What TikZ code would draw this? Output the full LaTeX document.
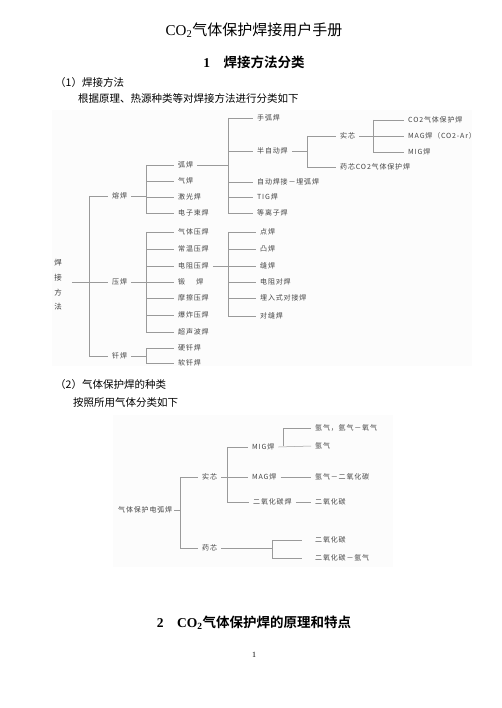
\documentclass[tikz,border=0pt]{standalone}
\usepackage{fontspec}
\setmainfont{Liberation Serif}
\newfontfamily\cjk[BoldFont={Noto Sans CJK SC Bold}]{Noto Sans CJK SC}
\newfontfamily\dg[LetterSpace=12]{Noto Sans CJK SC}
\definecolor{lc}{HTML}{9A9A9A}
\definecolor{tc}{HTML}{444444}
\definecolor{bgc}{HTML}{FCFCFC}
\tikzset{
  lbl/.style={anchor=west, inner xsep=4pt, inner ysep=1pt, text=tc, font=\dg\fontsize{7}{8}\selectfont},
  ln/.style={draw=lc, line width=0.5pt},
  body/.style={anchor=west, inner sep=0pt, font=\cjk\fontsize{10.5}{12}\selectfont},
}
\begin{document}
\begin{tikzpicture}[x=1pt,y=-1pt]
\useasboundingbox (0,0) rectangle (502,708);
\fill[white] (0,0) rectangle (502,708);
% backgrounds of the two figures
\fill[bgc] (52,110) rectangle (472,366);
\fill[bgc] (113,415) rectangle (393,567);

% headings and body text
\node[inner sep=0pt] (title) at (254,30) {\fontsize{15}{16}\selectfont CO\textsubscript{2}\cjk 气体保护焊接用户手册};
\node[inner sep=0pt] (sec1) at (254,62) {\bfseries\fontsize{13.5}{15}\selectfont 1\hspace{1em}\cjk 焊接方法分类};
\node[body] (p1) at (55,83) {\cjk （1）焊接方法};
\node[body] (p2) at (78,99) {根据原理、热源种类等对焊接方法进行分类如下};
\node[body] (p3) at (55,385) {\cjk （2）气体保护焊的种类};
\node[body] (p4) at (73,403) {按照所用气体分类如下};
\node[inner sep=0pt] (sec2) at (254,623) {\bfseries\fontsize{13.5}{15}\selectfont 2\hspace{1em}CO\textsubscript{2}\cjk 气体保护焊的原理和特点};
\node[inner sep=0pt] (pg) at (254,655) {\fontsize{8}{9}\selectfont 1};

% ---------- figure 1 ----------
\node[text=tc, inner xsep=10pt, inner ysep=0pt, align=center, font=\dg\fontsize{7.5}{14.7}\selectfont] (root) at (58,285) {焊\\接\\方\\法};

\coordinate (v0) at (89,0);
\coordinate (v1) at (146,0);
\coordinate (v2) at (228,0);
\coordinate (v3) at (307,0);
\coordinate (v4) at (373,0);
\coordinate (v5) at (146,0);
\coordinate (v6) at (228,0);
\coordinate (v7) at (146,0);

\node[lbl] (rh) at (108,196) {熔焊};
\node[lbl] (yh) at (108,282) {压焊};
\node[lbl] (qh) at (108,356) {钎焊};

\node[lbl] (hh) at (174,165) {弧焊};
\node[lbl] (qih) at (174,181) {气焊};
\node[lbl] (jgh) at (174,197) {激光焊};
\node[lbl] (dzs) at (174,213) {电子束焊};

\node[lbl] (shh) at (253,118) {手弧焊};
\node[lbl] (bzd) at (253,151) {半自动焊};
\node[lbl] (zdh) at (253,182) {自动焊接－埋弧焊};
\node[lbl] (tig) at (253,197) {TIG焊};
\node[lbl] (dlz) at (253,213) {等离子焊};

\node[lbl] (sx) at (336,136) {实芯};
\node[lbl] (yx) at (336,167) {药芯CO2气体保护焊};

\node[lbl] (co2) at (404,120) {CO2气体保护焊};
\node[lbl] (mag) at (404,136) {MAG焊（CO2-Ar）};
\node[lbl] (mig) at (404,152) {MIG焊};

\node[lbl] (qtyh) at (174,232) {气体压焊};
\node[lbl] (cwyh) at (174,249) {常温压焊};
\node[lbl] (dzyh) at (174,266) {电阻压焊};
\node[lbl] (dh) at (174,282) {锻\hspace{1.6em}焊};
\node[lbl] (mcyh) at (174,298) {摩擦压焊};
\node[lbl] (bzyh) at (174,315) {爆炸压焊};
\node[lbl] (csbh) at (174,332) {超声波焊};

\node[lbl] (dian) at (256,232) {点焊};
\node[lbl] (tu) at (256,249) {凸焊};
\node[lbl] (feng) at (256,266) {缝焊};
\node[lbl] (dzdh) at (256,282) {电阻对焊};
\node[lbl] (mrs) at (256,298) {埋入式对接焊};
\node[lbl] (dfh) at (256,316) {对缝焊};

\node[lbl] (yqh) at (174,348) {硬钎焊};
\node[lbl] (rqh) at (174,363) {软钎焊};

% connectors figure 1
\draw[ln] (root.east |- yh.west) -- (yh.west);
\draw[ln] (v0 |- rh.west) -- (v0 |- qh.west);
\draw[ln] (v0 |- rh.west) -- (rh.west);
\draw[ln] (v0 |- qh.west) -- (qh.west);

\draw[ln] (rh.east) -- (v1 |- rh.east);
\draw[ln] (v1 |- hh.west) -- (v1 |- dzs.west);
\foreach \n in {hh,qih,jgh,dzs} \draw[ln] (v1 |- \n.west) -- (\n.west);

\draw[ln] (hh.east) -- (v2 |- hh.east);
\draw[ln] (v2 |- shh.west) -- (v2 |- dlz.west);
\foreach \n in {shh,bzd,zdh,tig,dlz} \draw[ln] (v2 |- \n.west) -- (\n.west);

\draw[ln] (bzd.east) -- (v3 |- bzd.east);
\draw[ln] (v3 |- sx.west) -- (v3 |- yx.west);
\foreach \n in {sx,yx} \draw[ln] (v3 |- \n.west) -- (\n.west);

\draw[ln] (sx.east) -- (v4 |- sx.east);
\draw[ln] (v4 |- co2.west) -- (v4 |- mig.west);
\foreach \n in {co2,mag,mig} \draw[ln] (v4 |- \n.west) -- (\n.west);

\draw[ln] (yh.east) -- (v5 |- yh.east);
\draw[ln] (v5 |- qtyh.west) -- (v5 |- csbh.west);
\foreach \n in {qtyh,cwyh,dzyh,dh,mcyh,bzyh,csbh} \draw[ln] (v5 |- \n.west) -- (\n.west);

\draw[ln] (dzyh.east) -- (v6 |- dzyh.east);
\draw[ln] (v6 |- dian.west) -- (v6 |- dfh.west);
\foreach \n in {dian,tu,feng,dzdh,mrs,dfh} \draw[ln] (v6 |- \n.west) -- (\n.west);

\draw[ln] (qh.east) -- (v7 |- qh.east);
\draw[ln] (v7 |- yqh.west) -- (v7 |- rqh.west);
\foreach \n in {yqh,rqh} \draw[ln] (v7 |- \n.west) -- (\n.west);

% ---------- figure 2 ----------
\coordinate (w0) at (180,0);
\coordinate (w1) at (227,0);
\coordinate (w2) at (283,0);
\coordinate (w3) at (272,0);

\node[lbl, inner xsep=2pt] (qbh) at (116,510) {气体保护电弧焊};
\node[lbl] (sx2) at (198,477) {实芯};
\node[lbl] (yx2) at (198,548) {药芯};

\node[lbl] (mig2) at (248,447) {MIG焊};
\node[lbl] (mag2) at (248,477) {MAG焊};
\node[lbl] (co2h) at (249,502) {二氧化碳焊};

\node[lbl] (ar1) at (311,428) {氩气，氩气－氧气};
\node[lbl] (ar2) at (311,446) {氩气};
\node[lbl] (arco) at (311,477) {氩气－二氧化碳};
\node[lbl] (co2a) at (311,502) {二氧化碳};
\node[lbl] (co2b) at (311,540) {二氧化碳};
\node[lbl] (co2c) at (311,558) {二氧化碳－氩气};

\draw[ln] (qbh.east) -- (w0 |- qbh.east);
\draw[ln] (w0 |- sx2.west) -- (w0 |- yx2.west);
\foreach \n in {sx2,yx2} \draw[ln] (w0 |- \n.west) -- (\n.west);

\draw[ln] (sx2.east) -- (mag2.west);
\draw[ln] (w1 |- mig2.west) -- (w1 |- co2h.west);
\foreach \n in {mig2,co2h} \draw[ln] (w1 |- \n.west) -- (\n.west);

\draw[ln] (mig2.east) -- (ar2.west);
\draw[ln] (w2 |- ar1.west) -- (w2 |- ar2.west);
\draw[ln] (w2 |- ar1.west) -- (ar1.west);
\draw[ln] (mag2.east) -- (arco.west);
\draw[ln] (co2h.east) -- (co2a.west);

\draw[ln] (yx2.east) -- (w3 |- yx2.east);
\draw[ln] (w3 |- co2b.west) -- (w3 |- co2c.west);
\foreach \n in {co2b,co2c} \draw[ln, shorten >=9pt] (w3 |- \n.west) -- (\n.west);
\end{tikzpicture}
\end{document}
